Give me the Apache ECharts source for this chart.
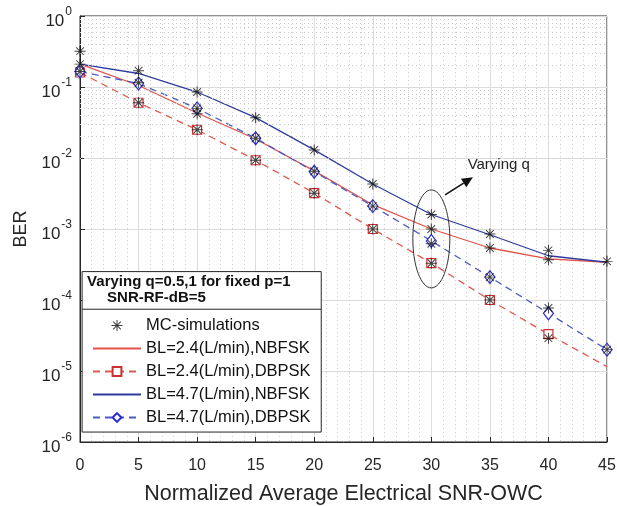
<!DOCTYPE html>
<html>
<head>
<meta charset="utf-8">
<script src="https://cdn.jsdelivr.net/npm/echarts@6/dist/echarts.min.js"></script>
<style>
html,body{margin:0;padding:0;background:#fff;}
#chart{width:617px;height:506px;}
</style>
</head>
<body>
<div id="chart"></div>
<script>
// ---- data ----
const snr = [0, 5, 10, 15, 20, 25, 30, 35, 40, 45];
const xTicks = [0, 5, 10, 15, 20, 25, 30, 35, 40, 45];
const yTickExponents = [0, -1, -2, -3, -4, -5, -6];

const berBL24NBFSK = [0.21, 0.105, 0.043, 0.0185, 0.0066, 0.0022, 0.001, 0.00054, 0.00038, 0.00034];
const berBL24DBPSK = [0.16, 0.06, 0.025, 0.0093, 0.0032, 0.001, 0.00033, 0.0001, 0.000033, 0.0000115];
const berBL47NBFSK = [0.21, 0.155, 0.085, 0.037, 0.013, 0.0043, 0.0016, 0.00083, 0.00042, 0.00034];
const berBL47DBPSK = [0.165, 0.112, 0.05, 0.019, 0.0064, 0.0021, 0.00068, 0.00021, 0.000065, 0.00002];

const mcX = [0, 0, 0, 5, 5, 5, 10, 10, 10, 10, 15, 15, 15, 20, 20, 20, 25, 25, 25, 30, 30, 30, 30, 35, 35, 35, 35, 40, 40, 40, 40, 45, 45];
const mcY = [0.32, 0.21, 0.165, 0.17, 0.115, 0.06, 0.085, 0.05, 0.042, 0.025, 0.037, 0.019, 0.0093, 0.013, 0.0065, 0.0032, 0.0043, 0.0021, 0.001, 0.0016, 0.001, 0.00062, 0.00033, 0.00085, 0.00054, 0.00021, 0.0001, 0.0005, 0.00037, 0.000077, 0.000029, 0.00035, 0.00002];

const legendNames = ['MC-simulations', 'BL=2.4(L/min),NBFSK', 'BL=2.4(L/min),DBPSK', 'BL=4.7(L/min),NBFSK', 'BL=4.7(L/min),DBPSK'];
const legendHeader = ['Varying q=0.5,1 for fixed p=1', 'SNR-RF-dB=5'];
const annotationText = 'Varying q';
const xTitle = 'Normalized Average Electrical SNR-OWC';
const yTitle = 'BER';

// ---- helpers ----
const FONT = '"Liberation Sans", Arial, sans-serif';
const AX = '#262626';
const pair = (xs, ys) => xs.map((x, i) => [x, ys[i]]);
const asterisk = 'path://M9.1 0H10.9V20H9.1Z M0 9.1H20V10.9H0Z M3.636 2.364L17.636 16.364L16.364 17.636L2.364 3.636Z M17.636 3.636L3.636 17.636L2.364 16.364L16.364 2.364Z';

const minorY = [];
for (let k = -6; k < 0; k++) for (let m = 2; m <= 9; m++) minorY.push(m * Math.pow(10, k));

const redDashedData = pair(snr, berBL24DBPSK).map((p, i) => i === snr.length - 1 ? {value: p, symbol: 'none'} : p);

const chart = echarts.init(document.getElementById('chart'), null, {renderer: 'canvas'});
const option = {
  animation: false,
  backgroundColor: '#fff',
  textStyle: {fontFamily: FONT},
  grid: {left: 80, right: 10, top: 16, bottom: 64, show: true, borderColor: AX, borderWidth: 1,
    backgroundColor: 'transparent', containLabel: false, outerBoundsMode: 'none'},
  xAxis: {
    type: 'value', min: 0, max: 45, interval: 5,
    name: xTitle, nameLocation: 'middle', nameGap: 41,
    nameTextStyle: {fontSize: 21.5, color: AX, fontFamily: FONT},
    axisLine: {show: true, lineStyle: {color: AX}},
    axisTick: {show: true, inside: true, length: 5, lineStyle: {color: AX}},
    axisLabel: {fontSize: 16, color: AX, margin: 16, fontFamily: FONT,
      formatter: v => xTicks.indexOf(v) >= 0 ? String(v) : ''},
    splitLine: {show: true, lineStyle: {color: '#dcdcdc', width: 1}},
    minorTick: {show: false, splitNumber: 5},
    minorSplitLine: {show: true, lineStyle: {color: '#cccccc', type: [1, 3], width: 1}}
  },
  yAxis: {
    type: 'log', logBase: 10, min: 1e-6, max: 1,
    name: yTitle, nameLocation: 'middle', nameGap: 50, nameRotate: 90,
    nameTextStyle: {fontSize: 18, color: AX, fontFamily: FONT},
    axisLine: {show: true, lineStyle: {color: AX}},
    axisTick: {show: true, inside: true, length: 5, lineStyle: {color: AX}},
    splitLine: {show: true, lineStyle: {color: '#dcdcdc', width: 1}},
    axisLabel: {
      margin: 8,
      formatter: v => {
        const e = Math.round(Math.log10(v));
        return yTickExponents.indexOf(e) >= 0 ? '{b|10}{s|' + e + '}' : '';
      },
      rich: {
        b: {fontSize: 17, color: AX, fontFamily: FONT, lineHeight: 28, verticalAlign: 'bottom'},
        s: {fontSize: 12, color: AX, fontFamily: FONT, lineHeight: 28, verticalAlign: 'bottom', padding: [0, 0, 12, 1]}
      }
    }
  },
  legend: {
    data: [
      {name: legendNames[0]},
      {name: legendNames[1], itemStyle: {opacity: 0}},
      {name: legendNames[2]},
      {name: legendNames[3], itemStyle: {opacity: 0}},
      {name: legendNames[4]}
    ],
    orient: 'vertical', left: 92, top: 317, padding: 0,
    itemWidth: 48, itemHeight: 11, itemGap: 6,
    textStyle: {fontSize: 16.5, color: '#111', fontFamily: FONT, lineHeight: 15},
    z: 10, selectedMode: false
  },
  series: [
    {
      name: 'grid-minor', type: 'line', data: [], silent: true, z: 1,
      markLine: {
        silent: true, symbol: ['none', 'none'], label: {show: false},
        lineStyle: {color: '#cccccc', type: [1, 3], width: 1},
        data: minorY.map(v => ({yAxis: v}))
      }
    },
    {
      name: legendNames[1], type: 'line', data: pair(snr, berBL24NBFSK), z: 3,
      showSymbol: false, symbol: 'none',
      lineStyle: {color: '#e0524a', width: 1.3}, itemStyle: {color: '#e0524a'}
    },
    {
      name: legendNames[2], type: 'line', data: redDashedData, z: 3,
      symbol: 'rect', symbolSize: 9, showSymbol: true,
      lineStyle: {color: '#e0584d', width: 1.3, type: [7, 5]},
      itemStyle: {color: '#fff', borderColor: '#cf2f2f', borderWidth: 1.2}
    },
    {
      name: legendNames[3], type: 'line', data: pair(snr, berBL47NBFSK), z: 3,
      showSymbol: false, symbol: 'none',
      lineStyle: {color: '#2f3c9e', width: 1.3}, itemStyle: {color: '#2f3c9e'}
    },
    {
      name: legendNames[4], type: 'line', data: pair(snr, berBL47DBPSK), z: 3,
      symbol: 'diamond', symbolSize: [10, 13], showSymbol: true,
      lineStyle: {color: '#4a5bc4', width: 1.3, type: [7, 5]},
      itemStyle: {color: '#fff', borderColor: '#2a2ad0', borderWidth: 1.2}
    },
    {
      name: legendNames[0], type: 'scatter', data: pair(mcX, mcY), z: 5,
      symbol: asterisk, symbolSize: 11,
      itemStyle: {color: '#111'}
    }
  ]
};
chart.setOption(option);

// annotation positioned through the chart's own coordinate system
const px = p => chart.convertToPixel({gridIndex: 0}, p);
const eTop = px([30, 0.00355]), eBot = px([30, 0.000148]);
const eL = px([28.42, 0.001]), eR = px([31.58, 0.001]);
const aFrom = px([31.17, Math.pow(10, -2.52)]), aTo = px([33.55, Math.pow(10, -2.27)]);
const tPos = px([33.1, Math.pow(10, -2.10)]);
const ang = Math.atan2(aTo[1] - aFrom[1], aTo[0] - aFrom[0]);
const hl = 11, hw = 5;
const base = [aTo[0] - hl * Math.cos(ang), aTo[1] - hl * Math.sin(ang)];
const head = [
  aTo,
  [base[0] + hw * Math.sin(ang), base[1] - hw * Math.cos(ang)],
  [base[0] - hw * Math.sin(ang), base[1] + hw * Math.cos(ang)]
];

// legend box corners from axis values
const boxTL = px([0.18, Math.pow(10, -3.6)]);
const boxBR = px([20.6, Math.pow(10, -5.86)]);
const sepY = px([0, Math.pow(10, -4.13)])[1];

chart.setOption({
  graphic: [
    {type: 'ellipse', shape: {cx: (eL[0] + eR[0]) / 2, cy: (eTop[1] + eBot[1]) / 2, rx: (eR[0] - eL[0]) / 2, ry: (eBot[1] - eTop[1]) / 2},
     style: {fill: 'none', stroke: '#333', lineWidth: 1}, z: 20, silent: true},
    {type: 'line', shape: {x1: aFrom[0], y1: aFrom[1], x2: base[0], y2: base[1]},
     style: {stroke: '#111', lineWidth: 1.6}, z: 20, silent: true},
    {type: 'polygon', shape: {points: head}, style: {fill: '#111'}, z: 20, silent: true},
    {type: 'text', x: tPos[0], y: tPos[1], style: {text: annotationText, fontSize: 15, fill: '#222', fontFamily: FONT, verticalAlign: 'middle'}, z: 20, silent: true},
    {type: 'rect', shape: {x: boxTL[0], y: boxTL[1], width: boxBR[0] - boxTL[0], height: boxBR[1] - boxTL[1]},
     style: {fill: '#fff', stroke: AX, lineWidth: 1}, z: 5, silent: true},
    {type: 'line', shape: {x1: boxTL[0], y1: sepY, x2: boxBR[0], y2: sepY},
     style: {stroke: AX, lineWidth: 1}, z: 6, silent: true},
    {type: 'text', x: boxTL[0] + 5, y: boxTL[1] + 10, style: {text: legendHeader[0], fontSize: 15, fontWeight: 'bold', fill: '#111', fontFamily: FONT, verticalAlign: 'middle'}, z: 6, silent: true},
    {type: 'text', x: boxTL[0] + 25, y: boxTL[1] + 26, style: {text: legendHeader[1], fontSize: 15, fontWeight: 'bold', fill: '#111', fontFamily: FONT, verticalAlign: 'middle'}, z: 6, silent: true}
  ]
});
</script>
</body>
</html>
